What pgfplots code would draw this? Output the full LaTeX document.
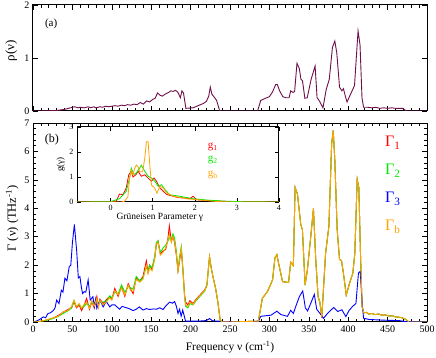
\documentclass[border=0pt]{standalone}
\usepackage{fontspec}
\setmainfont{Liberation Serif}
\usepackage{pgfplots}
\pgfplotsset{compat=1.18}
\definecolor{rhoc}{RGB}{110,15,75}
\definecolor{gred}{RGB}{255,0,0}
\definecolor{ggreen}{RGB}{0,235,0}
\definecolor{gblue}{RGB}{0,0,255}
\definecolor{gorange}{RGB}{255,165,0}

\begin{document}
\begin{tikzpicture}
\useasboundingbox (0pt,0pt) rectangle (436pt,358pt);
\pgfplotsset{
  every axis/.append style={
    scale only axis, anchor=south west,
    axis line style={line width=1pt},
    tick style={black, line width=0.6pt},
    major tick length=5pt, minor tick length=3pt,
    tick label style={font=\fontsize{10}{12}\selectfont},
    /pgf/number format/assume math mode=true,
  },
}

% (a) density of states
\begin{axis}[at={(33pt,247pt)}, width=394pt, height=106pt,
  xmin=0, xmax=500, ymin=0, ymax=2,
  xtick={0,50,...,500}, xticklabels={}, minor x tick num=4,
  ytick={0,1,2},
  ylabel={ρ(ν)},
  ylabel style={at={(axis description cs:-0.055,0.57)}, anchor=center, font=\fontsize{13}{15}\selectfont},
]
\addplot[rhoc, line width=0.9pt] coordinates {
(0,0) (10,0) (20,0.005) (30,0.01) (35,0.02) (40,0.03) (45,0.05) (50,0.07) (53,0.08) (57,0.06)
(60,0.07) (65,0.06) (70,0.08) (73,0.06) (77,0.08) (80,0.06) (85,0.08) (88,0.07) (92,0.09)
(96,0.08) (100,0.09) (104,0.1) (108,0.09) (112,0.11) (116,0.1) (120,0.12) (124,0.11) (128,0.13)
(132,0.12) (136,0.16) (140,0.13) (144,0.19) (148,0.17) (152,0.22) (155,0.24) (158,0.34) (161,0.3)
(164,0.28) (168,0.32) (172,0.35) (175,0.38) (178,0.37) (181,0.39) (184,0.35) (187,0.25) (189,0.38)
(191,0.34) (194,0.05) (203,0.06) (211,0.11) (216,0.14) (220,0.18) (223,0.28) (225,0.45) (227,0.32)
(230,0.26) (233,0.2) (237,0.0) (285,0) (289,0.2) (295,0.24) (300,0.27) (304,0.36) (308,0.5)
(310,0.5) (313,0.38) (317,0.27) (321,0.25) (325,0.25) (327,0.38) (330,0.35) (332,0.37) (335,0.9)
(338,0.8) (340,0.6) (342,0.57) (345,0.24) (348,0.25) (353,0.6) (358,0.85) (360.5,0.25) (363,0.2)
(368,0.06) (372,0.4) (376,0.6) (380,1.2) (383,1.32) (385.5,1.1) (389,0.45) (392,0.38) (394,0.42)
(396,0.3) (398.5,0.17) (404,0.35) (408,0.48) (412.5,1.51) (415,1.25) (417.5,0.25) (419.5,0.07)
(425,0.07) (430,0.06) (435,0.07) (440,0.05) (445,0.06) (450,0.05) (455,0.06) (460,0.05)
(465,0.05) (469,0.05) (474,0.0) (500,0)
};
\node[font=\fontsize{11}{13}\selectfont] at (axis description cs:0.046,0.82) {(a)};
\end{axis}

% (b) main panel
\begin{axis}[at={(33pt,36pt)}, width=394pt, height=199pt,
  xmin=0, xmax=500, ymin=0, ymax=7,
  xtick={0,50,...,500}, minor x tick num=4,
  ytick={0,...,7}, minor y tick num=4,
  xlabel={Frequency ν (cm\textsuperscript{-1})},
  xlabel style={at={(axis description cs:0.5,-0.126)}, anchor=center, font=\fontsize{11.5}{14}\selectfont},
  ylabel={Γ (ν) (THz\textsuperscript{-1})},
  ylabel style={at={(axis description cs:-0.053,0.52)}, anchor=center, font=\fontsize{12.5}{15}\selectfont},
]
% Gamma_1
\addplot[gred, line width=0.9pt] coordinates {
(0,0) (5,0.01) (10,0.02) (15,0.05) (20,0.09) (25,0.13) (30,0.2) (35,0.28) (38,0.34) (42,0.4)
(45,0.45) (49,0.5) (52,0.72) (55,0.5) (58.6,0.6) (61.6,0.4) (65,0.6) (68,0.83) (71.7,0.45)
(74.7,0.72) (77.6,0.5) (81,0.9) (83,0.55) (85,0.8) (89,0.65) (93.5,0.8) (97.5,0.9) (100,0.8)
(103.8,1.18) (108,0.9) (112.4,1.25) (116.5,0.9) (120.8,1.35) (124,1.15) (127,1.0) (131,1.55)
(135.4,1.45) (139.6,1.6) (143.8,2.15) (146,1.75) (148,2.0) (151,1.85) (154.4,2.25) (156.5,2.7)
(158.6,2.85) (161.6,2.4) (165,2.5) (168.4,2.55) (171.3,2.95) (173,3.38) (175.5,2.85) (177.6,3.0)
(179.7,2.8) (181.9,2.35) (184,1.8) (186,2.15) (188.2,2.55) (190.3,1.8) (192.4,0.95) (193.7,0.7)
(196.7,0.6) (199,0.75) (203,0.65) (207,0.8) (213.5,1.0) (217.7,1.12) (220.7,1.3) (224,2.3)
(226.2,1.9) (228.3,1.6) (231.6,1.2) (234.6,0.7) (237.6,0.05) (240,0.01) (250,0.0) (286,0.03)
(291,0.83) (297.5,1.07) (304,1.48) (307,2.25) (309.5,2.37) (311.6,2.07) (316.7,1.42) (324.3,1.39)
(327,2.1) (330.4,1.98) (332.6,4.73) (335.6,4.5) (339.8,3.43) (341.9,3.25) (345.3,1.3) (348.2,1.83)
(352.5,3.01) (355.9,3.99) (358.8,2.2) (361.8,0.89) (364,0.7) (366.5,0.15) (371.3,2.42) (375.5,3.37)
(379,6.27) (381,6.74) (383,5.7) (386,3.25) (389,2.2) (391.6,2.15) (394.5,1.6) (397.5,0.95)
(401.7,1.36) (405.9,1.72) (408.4,2.42) (411.4,5.02) (413.5,4.73) (415.6,2.4) (417.7,0.53)
(419.8,0.32) (423,0.34) (426,0.28) (430,0.3) (434,0.26) (438.8,0.28) (443,0.24) (447,0.25)
(451.5,0.21) (456,0.22) (460,0.18) (464,0.17) (468,0.15) (472.6,0.1) (477,0.0) (500,0)
};
% Gamma_2
\addplot[ggreen, line width=0.9pt] coordinates {
(0,0) (5,0.01) (10,0.03) (15,0.05) (20,0.08) (25,0.12) (30,0.17) (35,0.24) (38,0.3) (42,0.36)
(45,0.4) (49,0.5) (52,0.75) (55,0.55) (58.6,0.62) (61.6,0.5) (65,0.55) (68,0.65) (71.7,0.55)
(74.7,0.7) (77.6,0.6) (81,0.78) (83,0.62) (85,0.72) (89,0.7) (93.5,0.75) (97.5,0.92) (100,0.85)
(103.8,1.05) (108,1.0) (112.4,1.3) (116.5,1.05) (120.8,1.25) (124,1.2) (127,1.15) (131,1.6)
(135.4,1.45) (139.6,1.55) (143.8,1.95) (146,1.8) (148,2.0) (151,1.9) (154.4,2.3) (156.5,2.8)
(158.6,2.85) (161.6,2.45) (165,2.6) (168.4,2.7) (171.3,2.85) (173,2.95) (175.5,2.9) (177.6,3.1)
(179.7,2.95) (181.9,2.5) (184,1.85) (186,2.3) (188.2,2.65) (190.3,1.85) (192.4,0.85) (193.7,0.55)
(196.7,0.5) (199,0.65) (203,0.6) (207,0.75) (213.5,0.95) (217.7,1.08) (220.7,1.28) (224,2.3)
(226.2,1.9) (228.3,1.6) (231.6,1.2) (234.6,0.7) (237.6,0.05) (240,0.01) (250,0.0) (286,0.03)
(291,0.83) (297.5,1.07) (304,1.48) (307,2.25) (309.5,2.37) (311.6,2.07) (316.7,1.42) (324.3,1.39)
(327,2.1) (330.4,1.98) (332.6,4.73) (335.6,4.5) (339.8,3.43) (341.9,3.25) (345.3,1.3) (348.2,1.83)
(352.5,3.01) (355.9,3.99) (358.8,2.2) (361.8,0.89) (364,0.7) (366.5,0.18) (371.3,2.42) (375.5,3.37)
(379,6.27) (381,6.74) (383,5.7) (386,3.25) (389,2.2) (391.6,2.15) (394.5,1.6) (397.5,0.95)
(401.7,1.36) (405.9,1.72) (408.4,2.42) (411.4,5.02) (413.5,4.73) (415.6,2.4) (417.7,0.53)
(419.8,0.32) (423,0.34) (426,0.28) (430,0.3) (434,0.26) (438.8,0.28) (443,0.24) (447,0.25)
(451.5,0.21) (456,0.22) (460,0.18) (464,0.17) (468,0.15) (472.6,0.1) (477,0.0) (500,0)
};
% Gamma_3
\addplot[gblue, line width=0.9pt] coordinates {
(0,0) (4,0.03) (8,0.08) (13,0.18) (16,0.15) (19,0.3) (22,0.32) (26,0.41) (28,0.5) (30,0.77)
(33,0.65) (36,1.12) (38,1.05) (40.5,1.54) (43,1.45) (46,1.95) (48,2.0) (50,2.78) (52.5,3.43)
(55.5,2.48) (57.5,1.55) (59.5,1.6) (61.6,1.18) (63,1.0) (65,1.07) (67,1.05) (70,1.48) (72.6,0.77)
(76,0.89) (78,0.54) (79.5,0.8) (81,0.48) (85,0.77) (89,0.53) (93,0.72) (97.5,0.53) (100,0.6)
(104,0.6) (107,0.52) (110,0.45) (113,0.55) (118.6,0.5) (122,0.47) (127,0.4) (131,0.45) (135,0.53)
(139.6,0.42) (144,0.47) (148,0.44) (153,0.46) (157,0.45) (160.7,0.5) (165,0.44) (169,0.58)
(173.4,0.7) (177,0.66) (179.7,0.72) (182,0.55) (184,0.3) (186,0.45) (188,0.2) (190,0.42)
(193.6,0.03) (200,0.03) (210,0.03) (220,0.05) (224,0.12) (228,0.04) (235,0.03) (240,0.02)
(250,0.01) (270,0.01) (286,0.02) (289,0.2) (302,0.24) (309.5,0.38) (314.6,0.26) (323,0.2)
(327,0.41) (330.4,0.3) (334,0.59) (338,0.89) (342.3,1.09) (345.6,0.5) (348.5,0.39) (352.8,0.68)
(357,0.97) (360,0.45) (365.6,0.25) (368.6,0.13) (374,0.31) (381.6,0.51) (386.7,0.37) (392,0.43)
(397,0.19) (401,0.4) (405.6,0.55) (409.8,0.65) (413,1.72) (415.3,1.78) (417.4,0.78) (419.5,0.13)
(426.6,0.09) (440,0.07) (450,0.06) (464.6,0.05) (471,0.02) (480,0.01) (500,0)
};
% Gamma_b
\addplot[gorange, line width=0.9pt] coordinates {
(0,0) (5,0.01) (10,0.03) (15,0.06) (20,0.1) (25,0.14) (30,0.18) (35,0.26) (38,0.36) (42,0.38)
(45,0.42) (49,0.55) (52,0.77) (55,0.53) (58.6,0.65) (61.6,0.48) (65,0.62) (68,0.7) (71.7,0.48)
(74.7,0.77) (77.6,0.55) (81,0.83) (83,0.5) (85,0.77) (89,0.6) (93.5,0.72) (97.5,0.85) (100,0.77)
(103.8,1.1) (108,0.95) (112.4,1.2) (116.5,0.95) (120.8,1.3) (124,1.1) (127,1.07) (131,1.5)
(135.4,1.4) (139.6,1.5) (143.8,2.0) (146,1.7) (148,1.9) (151,1.8) (154.4,2.2) (156.5,2.75)
(158.6,2.8) (161.6,2.35) (165,2.45) (168.4,2.6) (171.3,2.9) (173,3.1) (175.5,2.8) (177.6,3.0)
(179.7,2.85) (181.9,2.4) (184,1.8) (186,2.2) (188.2,2.6) (190.3,1.8) (192.4,0.9) (193.7,0.6)
(196.7,0.55) (199,0.7) (203,0.62) (207,0.78) (213.5,0.98) (217.7,1.1) (220.7,1.3) (224,2.3)
(226.2,1.9) (228.3,1.6) (231.6,1.2) (234.6,0.7) (237.6,0.05) (240,0.01) (250,0.0) (286,0.03)
(291,0.83) (297.5,1.07) (304,1.48) (307,2.25) (309.5,2.37) (311.6,2.07) (316.7,1.42) (324.3,1.39)
(327,2.1) (330.4,1.98) (332.6,4.73) (335.6,4.5) (339.8,3.43) (341.9,3.25) (345.3,1.3) (348.2,1.83)
(352.5,3.01) (355.9,3.99) (358.8,2.2) (361.8,0.89) (364,0.7) (366.5,0.18) (371.3,2.42) (375.5,3.37)
(379,6.27) (381,6.74) (383,5.7) (386,3.25) (389,2.2) (391.6,2.15) (394.5,1.6) (397.5,0.95)
(401.7,1.36) (405.9,1.72) (408.4,2.42) (411.4,5.02) (413.5,4.73) (415.6,2.4) (417.7,0.53)
(419.8,0.32) (423,0.34) (426,0.28) (430,0.3) (434,0.26) (438.8,0.28) (443,0.24) (447,0.25)
(451.5,0.21) (456,0.22) (460,0.18) (464,0.17) (468,0.15) (472.6,0.1) (477,0.0) (500,0)
};
\node[font=\fontsize{12}{14}\selectfont] at (axis description cs:0.048,0.915) {(b)};
\node[anchor=west, text=gred, font=\fontsize{16}{18}\selectfont] at (axis description cs:0.885,0.90) {Γ\textsubscript{1}};
\node[anchor=west, text=ggreen, font=\fontsize{16}{18}\selectfont] at (axis description cs:0.885,0.759) {Γ\textsubscript{2}};
\node[anchor=west, text=gblue, font=\fontsize{16}{18}\selectfont] at (axis description cs:0.885,0.618) {Γ\textsubscript{3}};
\node[anchor=west, text=gorange, font=\fontsize{16}{18}\selectfont] at (axis description cs:0.885,0.477) {Γ\textsubscript{b}};
\end{axis}

% inset: Grueneisen parameter distribution
\begin{axis}[at={(77pt,156pt)}, width=202pt, height=75pt,
  axis background/.style={fill=white},
  xmin=-0.8, xmax=4, ymin=0, ymax=3,
  xtick={0,1,2,3,4}, ytick={0,1,2,3},
  major tick length=4pt,
  tick label style={font=\fontsize{8}{9}\selectfont},
  xlabel={Grüneisen Parameter γ},
  xlabel style={at={(axis description cs:0.41,-0.2)}, anchor=center, font=\fontsize{9.5}{11}\selectfont},
  ylabel={g(γ)},
  ylabel style={at={(axis description cs:-0.08,0.5)}, anchor=center, font=\fontsize{9}{10}\selectfont},
]
\addplot[gred, line width=0.8pt] coordinates {
(-0.8,0) (0.0,0.0) (0.13,0.03) (0.21,0.32) (0.29,0.29) (0.37,0.56) (0.43,1.09) (0.49,1.23)
(0.53,1.0) (0.6,1.09) (0.65,1.23) (0.73,1.03) (0.81,1.09) (0.89,0.96) (0.97,0.83) (1.03,0.96)
(1.09,0.83) (1.17,0.56) (1.25,0.43) (1.33,0.3) (1.57,0.19) (1.88,0.13) (1.96,0.23) (2.04,0.09)
(2.4,0.05) (2.8,0.02) (4,0)
};
\addplot[ggreen, line width=0.8pt] coordinates {
(-0.8,0) (0.0,0.01) (0.06,0.05) (0.21,0.13) (0.37,0.43) (0.45,0.96) (0.49,1.36) (0.55,1.1)
(0.61,1.16) (0.69,1.36) (0.73,1.47) (0.81,1.23) (0.89,1.03) (0.97,0.96) (1.05,0.83) (1.13,0.63)
(1.21,0.69) (1.29,0.5) (1.4,0.29) (1.64,0.23) (1.96,0.13) (2.27,0.08) (2.75,0.03) (3.2,0.01) (4,0)
};
\addplot[gorange, line width=0.8pt] coordinates {
(-0.8,0) (0.25,0) (0.33,0.03) (0.41,0.21) (0.45,0.95) (0.49,1.28) (0.53,1.08) (0.57,1.35)
(0.61,1.48) (0.65,1.41) (0.69,1.21) (0.76,1.21) (0.81,1.75) (0.85,2.41) (0.89,2.41) (0.93,1.48)
(0.97,0.68) (1.05,0.55) (1.1,0.35) (1.17,0.63) (1.25,0.56) (1.33,0.36) (1.49,0.23) (1.8,0.13)
(2.12,0.08) (2.43,0.03) (2.8,0) (4,0)
};
\node[anchor=west, text=gred, font=\fontsize{11}{12}\selectfont] at (axis description cs:0.63,0.733) {g\textsubscript{1}};
\node[anchor=west, text=ggreen, font=\fontsize{11}{12}\selectfont] at (axis description cs:0.63,0.56) {g\textsubscript{2}};
\node[anchor=west, text=gorange, font=\fontsize{11}{12}\selectfont] at (axis description cs:0.63,0.36) {g\textsubscript{b}};
\end{axis}
\end{tikzpicture}
\end{document}
